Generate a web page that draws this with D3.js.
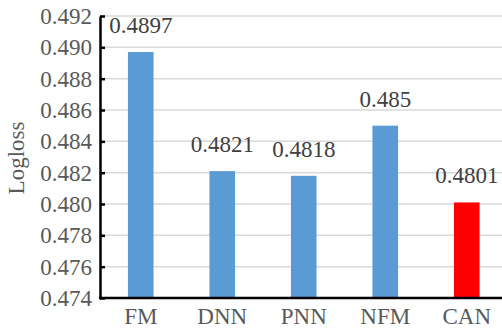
<!DOCTYPE html>
<html><head><meta charset="utf-8">
<script src="https://cdn.jsdelivr.net/npm/d3@7"></script>
<style>body{margin:0;background:#fff}svg{display:block}svg text{font-family:"Liberation Serif","Times New Roman",serif !important}</style>
</head><body>
<svg id="c" width="502" height="331"></svg>
<script>
const categories = ["FM", "DNN", "PNN", "NFM", "CAN"];
const values = [0.4897, 0.4821, 0.4818, 0.485, 0.4801];
const labels = ["0.4897", "0.4821", "0.4818", "0.485", "0.4801"];
const colors = ["#5b9bd5", "#5b9bd5", "#5b9bd5", "#5b9bd5", "#ff0000"];
const yTicks = [0.474, 0.476, 0.478, 0.480, 0.482, 0.484, 0.486, 0.488, 0.490, 0.492];

const svg = d3.select("#c");
const x = d3.scaleBand().domain(categories).range([100, 507.5]).paddingInner(0.686).paddingOuter(0.343);
const y = d3.scaleLinear().domain([0.474, 0.492]).range([298, 16]);

// gridlines
svg.append("g").selectAll("line").data(yTicks.slice(1)).join("line")
  .attr("x1", 100).attr("x2", 502).attr("y1", d => y(d)).attr("y2", d => y(d))
  .attr("stroke", "#d9d9d9").attr("stroke-width", 1.5);

// bars
svg.append("g").selectAll("rect").data(categories).join("rect")
  .attr("x", d => x(d)).attr("width", x.bandwidth())
  .attr("y", (d, i) => y(values[i])).attr("height", (d, i) => y(0.474) - y(values[i]))
  .attr("fill", (d, i) => colors[i]);

// data labels
svg.append("g").selectAll("text").data(categories).join("text")
  .attr("x", d => x(d) + x.bandwidth() / 2)
  .attr("y", (d, i) => y(values[i]) - 19)
  .attr("text-anchor", "middle")
  .style("font-size", "23px").attr("fill", "#404040")
  .text((d, i) => labels[i]);

// y axis
const ya = svg.append("g").attr("transform", "translate(100,0)")
  .call(d3.axisLeft(y).tickValues(yTicks).tickFormat(d3.format(".3f")).tickSizeInner(-5).tickSizeOuter(0).tickPadding(8));
ya.select(".domain").attr("stroke", "#000").attr("stroke-width", 2.5);
ya.selectAll(".tick line").attr("stroke", "#000").attr("stroke-width", 2.5);
ya.selectAll(".tick text").style("font-size", "23px").attr("fill", "#595959");

// x axis
const xa = svg.append("g").attr("transform", "translate(0,298)")
  .call(d3.axisBottom(x).tickSize(0).tickPadding(10));
xa.select(".domain").attr("d", "M99,0H502").attr("stroke", "#000").attr("stroke-width", 2.5);
xa.selectAll(".tick text").style("font-size", "23px").attr("fill", "#595959").attr("dy", "0.71em");

// y label
svg.append("text").attr("transform", "translate(24,158) rotate(-90)")
  .attr("text-anchor", "middle").style("font-size", "23px").attr("fill", "#595959")
  .text("Logloss");
</script>
</body></html>
